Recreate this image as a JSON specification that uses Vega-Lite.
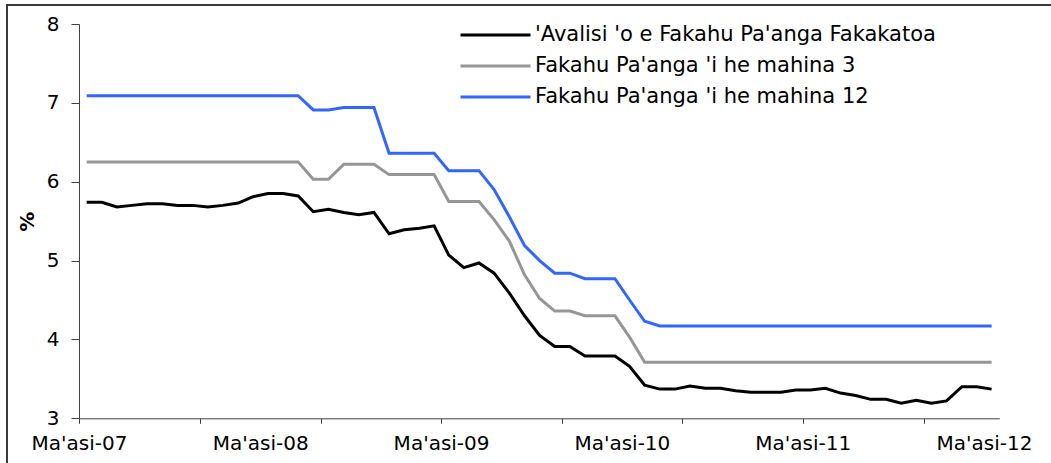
{
  "$schema": "https://vega.github.io/schema/vega-lite/v6.json",
  "width": 1045,
  "height": 459,
  "autosize": "none",
  "padding": {"left": 7, "top": 5, "right": -1, "bottom": -1},
  "background": "white",
  "config": {
    "view": {"stroke": "#3a3a3a", "strokeWidth": 2},
    "font": "DejaVu Sans",
    "axis": {"grid": false, "domainColor": "#404040", "tickColor": "#404040", "labelColor": "black", "titleColor": "black", "labelFont": "DejaVu Sans", "titleFont": "DejaVu Sans"}
  },
  "data": {"values": [
    {"d": "2007-03", "avg": 5.74, "m3": 6.25, "m12": 7.09},
    {"d": "2007-04", "avg": 5.74, "m3": 6.25, "m12": 7.09},
    {"d": "2007-05", "avg": 5.68, "m3": 6.25, "m12": 7.09},
    {"d": "2007-06", "avg": 5.70, "m3": 6.25, "m12": 7.09},
    {"d": "2007-07", "avg": 5.72, "m3": 6.25, "m12": 7.09},
    {"d": "2007-08", "avg": 5.72, "m3": 6.25, "m12": 7.09},
    {"d": "2007-09", "avg": 5.70, "m3": 6.25, "m12": 7.09},
    {"d": "2007-10", "avg": 5.70, "m3": 6.25, "m12": 7.09},
    {"d": "2007-11", "avg": 5.68, "m3": 6.25, "m12": 7.09},
    {"d": "2007-12", "avg": 5.70, "m3": 6.25, "m12": 7.09},
    {"d": "2008-01", "avg": 5.73, "m3": 6.25, "m12": 7.09},
    {"d": "2008-02", "avg": 5.81, "m3": 6.25, "m12": 7.09},
    {"d": "2008-03", "avg": 5.85, "m3": 6.25, "m12": 7.09},
    {"d": "2008-04", "avg": 5.85, "m3": 6.25, "m12": 7.09},
    {"d": "2008-05", "avg": 5.82, "m3": 6.25, "m12": 7.09},
    {"d": "2008-06", "avg": 5.62, "m3": 6.03, "m12": 6.91},
    {"d": "2008-07", "avg": 5.65, "m3": 6.03, "m12": 6.91},
    {"d": "2008-08", "avg": 5.61, "m3": 6.22, "m12": 6.94},
    {"d": "2008-09", "avg": 5.58, "m3": 6.22, "m12": 6.94},
    {"d": "2008-10", "avg": 5.61, "m3": 6.22, "m12": 6.94},
    {"d": "2008-11", "avg": 5.34, "m3": 6.09, "m12": 6.36},
    {"d": "2008-12", "avg": 5.39, "m3": 6.09, "m12": 6.36},
    {"d": "2009-01", "avg": 5.41, "m3": 6.09, "m12": 6.36},
    {"d": "2009-02", "avg": 5.44, "m3": 6.09, "m12": 6.36},
    {"d": "2009-03", "avg": 5.07, "m3": 5.75, "m12": 6.14},
    {"d": "2009-04", "avg": 4.91, "m3": 5.75, "m12": 6.14},
    {"d": "2009-05", "avg": 4.97, "m3": 5.75, "m12": 6.14},
    {"d": "2009-06", "avg": 4.84, "m3": 5.52, "m12": 5.90},
    {"d": "2009-07", "avg": 4.59, "m3": 5.25, "m12": 5.56},
    {"d": "2009-08", "avg": 4.30, "m3": 4.82, "m12": 5.19},
    {"d": "2009-09", "avg": 4.05, "m3": 4.52, "m12": 5.00},
    {"d": "2009-10", "avg": 3.91, "m3": 4.36, "m12": 4.84},
    {"d": "2009-11", "avg": 3.91, "m3": 4.36, "m12": 4.84},
    {"d": "2009-12", "avg": 3.79, "m3": 4.30, "m12": 4.77},
    {"d": "2010-01", "avg": 3.79, "m3": 4.30, "m12": 4.77},
    {"d": "2010-02", "avg": 3.79, "m3": 4.30, "m12": 4.77},
    {"d": "2010-03", "avg": 3.66, "m3": 4.03, "m12": 4.50},
    {"d": "2010-04", "avg": 3.42, "m3": 3.71, "m12": 4.23},
    {"d": "2010-05", "avg": 3.37, "m3": 3.71, "m12": 4.17},
    {"d": "2010-06", "avg": 3.37, "m3": 3.71, "m12": 4.17},
    {"d": "2010-07", "avg": 3.41, "m3": 3.71, "m12": 4.17},
    {"d": "2010-08", "avg": 3.38, "m3": 3.71, "m12": 4.17},
    {"d": "2010-09", "avg": 3.38, "m3": 3.71, "m12": 4.17},
    {"d": "2010-10", "avg": 3.35, "m3": 3.71, "m12": 4.17},
    {"d": "2010-11", "avg": 3.33, "m3": 3.71, "m12": 4.17},
    {"d": "2010-12", "avg": 3.33, "m3": 3.71, "m12": 4.17},
    {"d": "2011-01", "avg": 3.33, "m3": 3.71, "m12": 4.17},
    {"d": "2011-02", "avg": 3.36, "m3": 3.71, "m12": 4.17},
    {"d": "2011-03", "avg": 3.36, "m3": 3.71, "m12": 4.17},
    {"d": "2011-04", "avg": 3.38, "m3": 3.71, "m12": 4.17},
    {"d": "2011-05", "avg": 3.32, "m3": 3.71, "m12": 4.17},
    {"d": "2011-06", "avg": 3.29, "m3": 3.71, "m12": 4.17},
    {"d": "2011-07", "avg": 3.24, "m3": 3.71, "m12": 4.17},
    {"d": "2011-08", "avg": 3.24, "m3": 3.71, "m12": 4.17},
    {"d": "2011-09", "avg": 3.19, "m3": 3.71, "m12": 4.17},
    {"d": "2011-10", "avg": 3.23, "m3": 3.71, "m12": 4.17},
    {"d": "2011-11", "avg": 3.19, "m3": 3.71, "m12": 4.17},
    {"d": "2011-12", "avg": 3.22, "m3": 3.71, "m12": 4.17},
    {"d": "2012-01", "avg": 3.40, "m3": 3.71, "m12": 4.17},
    {"d": "2012-02", "avg": 3.40, "m3": 3.71, "m12": 4.17},
    {"d": "2012-03", "avg": 3.37, "m3": 3.71, "m12": 4.17}
  ]},
  "transform": [{"fold": ["avg", "m3", "m12"], "as": ["series", "value"]}],
  "mark": {"type": "line", "strokeWidth": 3},
  "encoding": {
    "x": {
      "field": "d", "type": "temporal", "timeUnit": "utcyearmonth", "bandPosition": 0.5,
      "scale": {
        "type": "utc",
        "domain": [{"year": 2007, "month": 3, "date": 1, "utc": true}, {"year": 2012, "month": 4, "date": 1, "utc": true}],
        "range": [72, 992.3]
      },
      "axis": {
        "title": null,
        "orient": "bottom",
        "offset": -45.7,
        "values": [
          {"year": 2007, "month": 3, "date": 1, "utc": true},
          {"year": 2007, "month": 11, "date": 1, "utc": true},
          {"year": 2008, "month": 3, "date": 1, "utc": true},
          {"year": 2008, "month": 7, "date": 1, "utc": true},
          {"year": 2009, "month": 3, "date": 1, "utc": true},
          {"year": 2009, "month": 11, "date": 1, "utc": true},
          {"year": 2010, "month": 3, "date": 1, "utc": true},
          {"year": 2010, "month": 7, "date": 1, "utc": true},
          {"year": 2011, "month": 3, "date": 1, "utc": true},
          {"year": 2011, "month": 11, "date": 1, "utc": true},
          {"year": 2012, "month": 3, "date": 1, "utc": true}
        ],
        "labelExpr": "utcmonth(datum.value) == 2 ? \"Ma'asi-\" + utcFormat(datum.value, '%y') : ''",
        "tickOpacity": {"condition": {"test": "(utcyear(datum.value) * 12 + utcmonth(datum.value) - 24086) % 8 == 0", "value": 1}, "value": 0},
        "tickSize": 5,
        "labelPadding": 10,
        "labelFontSize": 20,
        "labelOverlap": false,
        "labelFlush": false,
        "labelBound": false
      }
    },
    "y": {
      "field": "value", "type": "quantitative",
      "scale": {"domain": [3, 8], "range": [413.3, 19], "zero": false, "nice": false},
      "axis": {
        "title": "%",
        "titleFontWeight": "bold",
        "titleFontSize": 20,
        "titlePadding": 9,
        "orient": "left",
        "offset": -72,
        "values": [3, 4, 5, 6, 7, 8],
        "format": "d",
        "tickSize": 8,
        "labelPadding": 12,
        "labelFontSize": 20
      }
    },
    "color": {
      "field": "series", "type": "nominal",
      "scale": {"domain": ["avg", "m3", "m12"], "range": ["#000000", "#969696", "#3366ff"]},
      "legend": {
        "title": null,
        "orient": "none",
        "legendX": 477,
        "legendY": 18.5,
        "padding": 0,
        "symbolType": "M-3.5,0H3.5",
        "symbolSize": 400,
        "symbolStrokeWidth": 3,
        "labelFontSize": 21,
        "labelFont": "DejaVu Sans",
        "labelColor": "black",
        "labelLimit": 1000,
        "labelOffset": 28,
        "rowPadding": 9,
        "labelExpr": "datum.value == 'avg' ? \"'Avalisi 'o e Fakahu Pa'anga Fakakatoa\" : datum.value == 'm3' ? \"Fakahu Pa'anga 'i he mahina 3\" : \"Fakahu Pa'anga 'i he mahina 12\""
      }
    }
  }
}
